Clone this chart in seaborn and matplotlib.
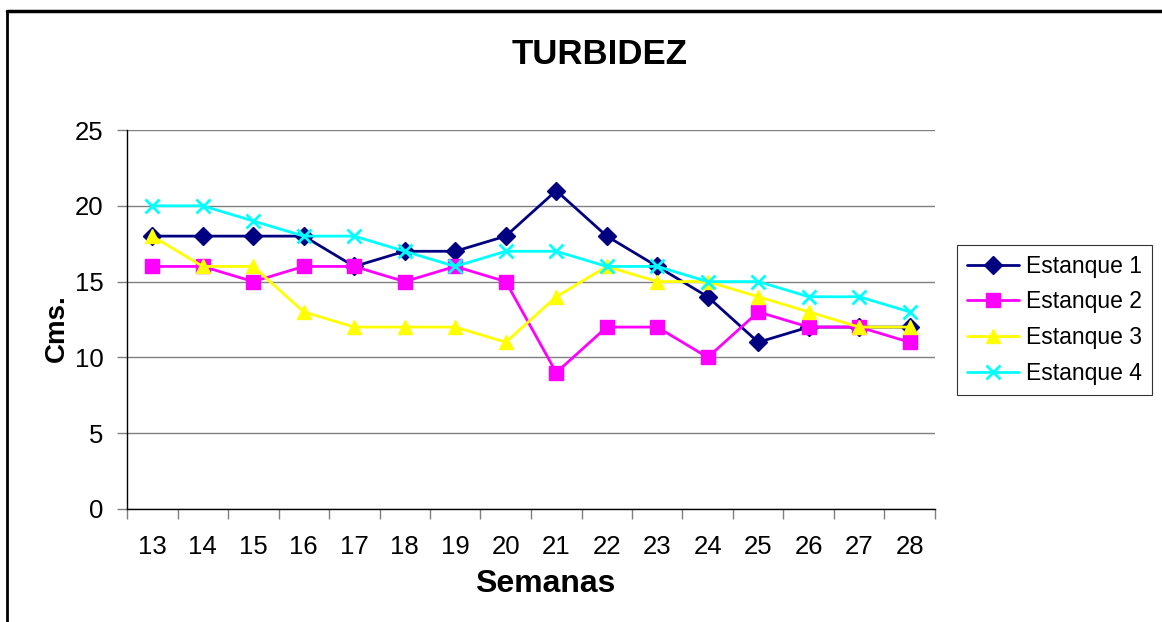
import matplotlib
matplotlib.use("Agg")
import matplotlib.pyplot as plt
import seaborn as sns
from matplotlib.lines import Line2D

semanas = ["13", "14", "15", "16", "17", "18", "19", "20", "21", "22", "23", "24", "25", "26", "27", "28"]
estanque_1 = [18, 18, 18, 18, 16, 17, 17, 18, 21, 18, 16, 14, 11, 12, 12, 12]
estanque_2 = [16, 16, 15, 16, 16, 15, 16, 15, 9, 12, 12, 10, 13, 12, 12, 11]
estanque_3 = [18, 16, 16, 13, 12, 12, 12, 11, 14, 16, 15, 15, 14, 13, 12, 12]
estanque_4 = [20, 20, 19, 18, 18, 17, 16, 17, 17, 16, 16, 15, 15, 14, 14, 13]

series = [
    ("Estanque 1", estanque_1, "#000080", "D", 9),
    ("Estanque 2", estanque_2, "#FF00FF", "s", 10),
    ("Estanque 3", estanque_3, "#FFFF00", "^", 10),
    ("Estanque 4", estanque_4, "#00FFFF", "x", 10),
]

sns.set_style("white")
plt.rcParams['font.family'] = ['Liberation Sans', 'DejaVu Sans']
plt.rcParams['text.color'] = 'black'
plt.rcParams['axes.labelcolor'] = 'black'
plt.rcParams['xtick.color'] = 'black'
plt.rcParams['ytick.color'] = 'black'

W, H = 1162, 622
fig = plt.figure(figsize=(W / 100, H / 100), dpi=100)
ax = fig.add_axes([127 / W, 1 - 509 / H, 808 / W, 379 / H])

pos = list(range(len(semanas)))
for name, vals, color, marker, ms in series:
    sns.lineplot(x=pos, y=vals, ax=ax, color=color, marker=marker, markersize=ms,
                 markeredgecolor=color, markeredgewidth=2 if marker == "x" else 1,
                 linewidth=2, label=name, legend=False)

ax.set_xlim(-0.5, len(semanas) - 0.5)
ax.set_ylim(0, 25)
ax.set_yticks([0, 5, 10, 15, 20, 25])
ax.yaxis.grid(True, color="#808080", linewidth=1)
ax.set_axisbelow(True)

ax.set_xticks([p - 0.5 for p in pos] + [len(semanas) - 0.5])
ax.set_xticklabels([])
ax.set_xticks(pos, minor=True)
ax.set_xticklabels(semanas, minor=True)
ax.tick_params(axis="x", which="major", direction="out", length=7, color="#808080", width=1, bottom=True)
ax.tick_params(axis="x", which="minor", length=0, pad=19, labelsize=18.5)
ax.tick_params(axis="y", direction="out", length=7, color="#808080", width=1, left=True, pad=10, labelsize=18.5)

for s in ["top", "right"]:
    ax.spines[s].set_visible(False)
for s in ["left", "bottom"]:
    ax.spines[s].set_color("black")
    ax.spines[s].set_linewidth(1)

# title and axis titles placed like the original chart
fig.text(600 / W, 1 - 55 / H, "TURBIDEZ", fontsize=25, fontweight="bold", ha="center", va="center")
fig.text(545 / W, 1 - 584 / H, "Semanas", fontsize=23, fontweight="bold", ha="center", va="center")
fig.text(57 / W, 1 - 328 / H, "Cms.", fontsize=20, fontweight="bold", ha="center", va="center", rotation=90)

handles = [Line2D([0], [0], color=c, marker=m, markersize=ms, markeredgecolor=c,
                  markeredgewidth=2 if m == "x" else 1, linewidth=2)
           for _, _, c, m, ms in series]
leg = ax.legend(handles, [s[0] for s in series], loc="upper left",
                bbox_to_anchor=(957 / W, 1 - 245 / H), bbox_transform=fig.transFigure,
                fontsize=16.5, frameon=True, fancybox=False, handlelength=2.3,
                borderpad=0.42, labelspacing=0.56, handletextpad=0.3, borderaxespad=0)
leg.get_frame().set_edgecolor("black")
leg.get_frame().set_linewidth(0.8)

# chart frame (only top and left edges show in the picture)
fig.add_artist(Line2D([7 / W, 1.0], [1 - 11 / H, 1 - 11 / H], transform=fig.transFigure, color="black", linewidth=2.5))
fig.add_artist(Line2D([7 / W, 7 / W], [0, 1 - 11 / H], transform=fig.transFigure, color="black", linewidth=2))

fig.savefig("out.png", dpi=100)
